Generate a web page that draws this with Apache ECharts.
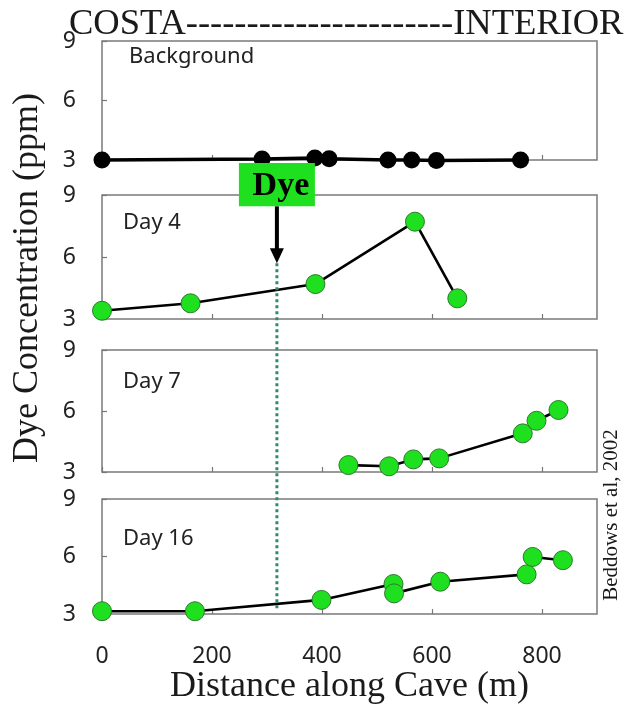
<!DOCTYPE html>
<html><head><meta charset="utf-8">
<script src="https://cdn.jsdelivr.net/npm/echarts@6/dist/echarts.min.js"></script>
<style>html,body{margin:0;padding:0;background:#fff}#c{width:635px;height:706px}</style>
</head><body><div id="c"></div><script>
// ---- data ----
const xTicks = [0, 200, 400, 600, 800];
const yTicks = [3, 6, 9];
const panelNames = ['Background', 'Day 4', 'Day 7', 'Day 16'];
const bgX = [0, 291, 387, 413, 520, 563, 608, 761];
const bgY = [3.0, 3.05, 3.1, 3.06, 3.0, 3.0, 2.97, 3.0];
const day4X = [0, 161, 388, 569, 646];
const day4Y = [3.4, 3.76, 4.69, 7.71, 4.0];
const day7X = [448, 522, 566, 613, 765, 790, 830];
const day7Y = [3.34, 3.28, 3.62, 3.67, 4.9, 5.52, 6.05];
const day16X = [0, 169, 399, 530, 531, 615, 772, 783, 838];
const day16Y = [3.15, 3.15, 3.74, 4.57, 4.08, 4.69, 5.07, 5.98, 5.81];
const dyeX = 318;
const titleText = 'COSTA----------------------INTERIOR';
const yTitle = 'Dye Concentration (ppm)';
const xTitle = 'Distance along Cave (m)';
const credit = 'Beddows et al, 2002';

// ---- layout ----
const gridDefs = [
  {top: 41, height: 119},
  {top: 195, height: 124},
  {top: 350, height: 122},
  {top: 499, height: 121}
];
const labelTops = [45, 211, 370, 527];
const labelLefts = [129, 123, 123, 123];
const zip = (xs, ys) => xs.map((x, i) => [x, ys[i]]);
const seriesData = [zip(bgX, bgY), zip(day4X, day4Y), zip(day7X, day7Y), zip(day16X, day16Y)];
const GREEN = '#1ee01e';

const chart = echarts.init(document.getElementById('c'));
const option = {
  animation: false,
  backgroundColor: '#fff',
  title: [{
    text: titleText, left: 64, top: 1,
    textStyle: {fontFamily: 'Liberation Serif', fontSize: 36.5, fontWeight: 'normal', color: '#1a1a1a'}
  }].concat(panelNames.map((n, i) => ({
    text: n, left: labelLefts[i], top: labelTops[i], padding: 0,
    textStyle: {fontFamily: 'Noto Sans', fontSize: 22, fontWeight: 'normal', color: '#222', lineHeight: 24}
  }))),
  grid: gridDefs.map(g => ({left: 102, width: 495, top: g.top, height: g.height,
    show: true, borderColor: '#7a7a7a', borderWidth: 1.5, backgroundColor: 'transparent'})),
  xAxis: gridDefs.map((g, i) => ({
    type: 'value', gridIndex: i, min: 0, max: 900,
    axisLine: {show: false}, splitLine: {show: false},
    axisTick: {show: true, inside: true, length: 5, customValues: xTicks, lineStyle: {color: '#777', width: 1.2}},
    axisLabel: {show: i === 3, customValues: xTicks, margin: 31, fontFamily: 'Noto Sans', fontSize: 23, color: '#222'},
    name: i === 3 ? xTitle : '', nameLocation: 'middle', nameGap: 49,
    nameTextStyle: {fontFamily: 'Liberation Serif', fontSize: 36, color: '#1a1a1a'}
  })),
  yAxis: gridDefs.map((g, i) => ({
    type: 'value', gridIndex: i, min: 3, max: 9, interval: 3,
    axisLine: {show: false}, splitLine: {show: false},
    axisTick: {show: true, inside: true, length: 5, customValues: yTicks, lineStyle: {color: '#777', width: 1.2}},
    axisLabel: {customValues: yTicks, margin: 26, fontFamily: 'Noto Sans', fontSize: 23, color: '#222'}
  })),
  series: seriesData.map((d, i) => ({
    type: 'line', xAxisIndex: i, yAxisIndex: i, data: d, clip: false,
    symbol: 'circle', symbolSize: i === 0 ? 17 : 19,
    lineStyle: {color: '#000', width: i === 0 ? 3.5 : 2.6},
    itemStyle: i === 0 ? {color: '#000'} : {color: GREEN, borderColor: '#2d7a2d', borderWidth: 1},
    z: 3
  }))
};
chart.setOption(option);

// annotations positioned through the axes
const tip = chart.convertToPixel({gridIndex: 1}, [dyeX, 5.7]);
const bot = chart.convertToPixel({gridIndex: 3}, [dyeX, 3.2]);
const boxTop = chart.convertToPixel({gridIndex: 1}, [dyeX, 10.55])[1];
const boxBot = chart.convertToPixel({gridIndex: 1}, [dyeX, 8.45])[1];
const cx = tip[0];
chart.setOption({
  graphic: [
    {type: 'line', z: 10, shape: {x1: cx, y1: tip[1], x2: cx, y2: bot[1]},
     style: {stroke: '#2e8b6e', lineWidth: 3, lineDash: [3, 3]}},
    {type: 'rect', z: 20, shape: {x: cx - 38, y: boxTop, width: 76, height: boxBot - boxTop},
     style: {fill: GREEN}},
    {type: 'text', z: 21, x: cx + 4, y: (boxTop + boxBot) / 2 + 2,
     style: {text: 'Dye', font: 'bold 34px "Liberation Serif"', fill: '#000', align: 'center', verticalAlign: 'middle'}},
    {type: 'line', z: 20, shape: {x1: cx, y1: boxBot, x2: cx, y2: tip[1] - 12},
     style: {stroke: '#000', lineWidth: 4}},
    {type: 'polygon', z: 20, shape: {points: [[cx - 7, tip[1] - 15], [cx + 7, tip[1] - 15], [cx, tip[1]]]},
     style: {fill: '#000'}},
    {type: 'text', z: 5, x: 28, y: 278, rotation: Math.PI / 2,
     style: {text: yTitle, font: '36px "Liberation Serif"', fill: '#1a1a1a', align: 'center', verticalAlign: 'middle'}},
    {type: 'text', z: 5, x: 611, y: 515, rotation: Math.PI / 2,
     style: {text: credit, font: '21px "Liberation Serif"', fill: '#1a1a1a', align: 'center', verticalAlign: 'middle'}}
  ]
});
</script></body></html>
